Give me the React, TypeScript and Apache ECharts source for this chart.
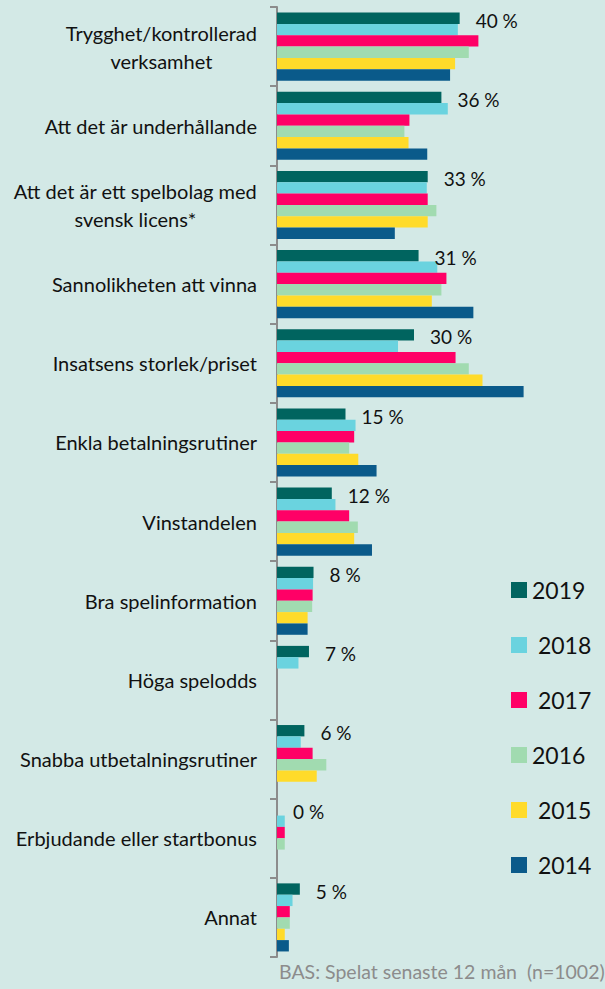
import React, { useEffect, useRef } from "react";
import * as echarts from "echarts";

const categories = [
  "Trygghet/kontrollerad\nverksamhet",
  "Att det är underhållande",
  "Att det är ett spelbolag med\nsvensk licens*",
  "Sannolikheten att vinna",
  "Insatsens storlek/priset",
  "Enkla betalningsrutiner",
  "Vinstandelen",
  "Bra spelinformation",
  "Höga spelodds",
  "Snabba utbetalningsrutiner",
  "Erbjudande eller startbonus",
  "Annat",
];

const years = ["2019", "2018", "2017", "2016", "2015", "2014"];
const colors = ["#00645f", "#6ad3df", "#ff0066", "#a1dbb0", "#ffdb2a", "#0a5a8a"];

const v2019 = [40, 36, 33, 31, 30, 15, 12, 8, 7, 6, 0, 5];
const v2018 = [39.6, 37.4, 32.8, 35.1, 26.5, 17.2, 12.8, 7.9, 4.7, 5.2, 1.7, 3.4];
const v2017 = [44.1, 29.0, 33.0, 37.1, 39.1, 16.9, 15.8, 7.8, null, 7.8, 1.7, 2.8];
const v2016 = [42.0, 27.9, 34.9, 36.0, 42.0, 15.8, 17.7, 7.7, null, 10.8, 1.7, 2.8];
const v2015 = [39.0, 28.8, 33.0, 33.9, 45.0, 17.8, 16.9, 6.7, null, 8.7, null, 1.7];
const v2014 = [37.9, 32.9, 25.8, 43.0, 54.0, 21.8, 20.8, 6.7, null, null, null, 2.6];

const seriesValues = [v2019, v2018, v2017, v2016, v2015, v2014];
const footnote = "BAS: Spelat senaste 12 mån  (n=1002)";

const FONT = "Lato, 'Open Sans', sans-serif";

export default function App() {
  const ref = useRef<HTMLDivElement>(null);
  useEffect(() => {
    document.body.style.margin = "0";
    const chart = echarts.init(ref.current!, null, { renderer: "svg" });
    const option = {
      animation: false,
      backgroundColor: "#d3e9e6",
      textStyle: { fontFamily: FONT },
      grid: { left: 277, top: 7, width: 274, height: 950 },
      xAxis: {
        type: "value",
        min: 0,
        max: 60,
        show: false,
      },
      yAxis: {
        type: "category",
        data: categories,
        inverse: true,
        axisLine: { show: true, lineStyle: { color: "#8c8c8c", width: 2 } },
        axisTick: { show: true, length: 7, lineStyle: { color: "#8c8c8c", width: 2 } },
        axisLabel: {
          margin: 20,
          color: "#111",
          fontSize: 20,
          fontFamily: FONT,
          align: "right",
          lineHeight: 28,
          formatter: (val: string) => {
            if (val.indexOf("\n") >= 0) {
              return val
                .split("\n")
                .map((l) => `{c|${l}}`)
                .join("\n");
            }
            return val;
          },
          rich: {
            c: { align: "center", fontSize: 20, lineHeight: 28, color: "#111", fontFamily: FONT },
          },
        },
      },
      legend: {
        orient: "vertical",
        left: 506,
        top: 573,
        itemWidth: 16,
        itemHeight: 16,
        itemGap: 31,
        icon: "rect",
        data: years,
        formatter: (name: string) => (name === "2019" || name === "2016" ? name : " " + name),
        textStyle: { fontSize: 23, lineHeight: 24, color: "#111", fontFamily: FONT },
      },
      graphic: [
        {
          type: "text",
          left: 279,
          top: 961,
          style: { text: footnote, fontSize: 19.5, fill: "#8c8c8c", fontFamily: FONT },
        },
      ],
      series: years.map((y, i) => ({
        name: y,
        type: "bar",
        data: seriesValues[i],
        barGap: "0%",
        barCategoryGap: "14%",
        itemStyle: { color: colors[i] },
        label:
          i === 0
            ? {
                show: true,
                position: "right",
                distance: 16,
                offset: [0, 2],
                fontSize: 19,
                color: "#111",
                fontFamily: FONT,
                formatter: (p: any) => `${p.value} %`,
              }
            : { show: false },
      })),
    };
    chart.setOption(option as any);
    return () => chart.dispose();
  }, []);
  return <div ref={ref} style={{ width: 605, height: 989 }} />;
}
